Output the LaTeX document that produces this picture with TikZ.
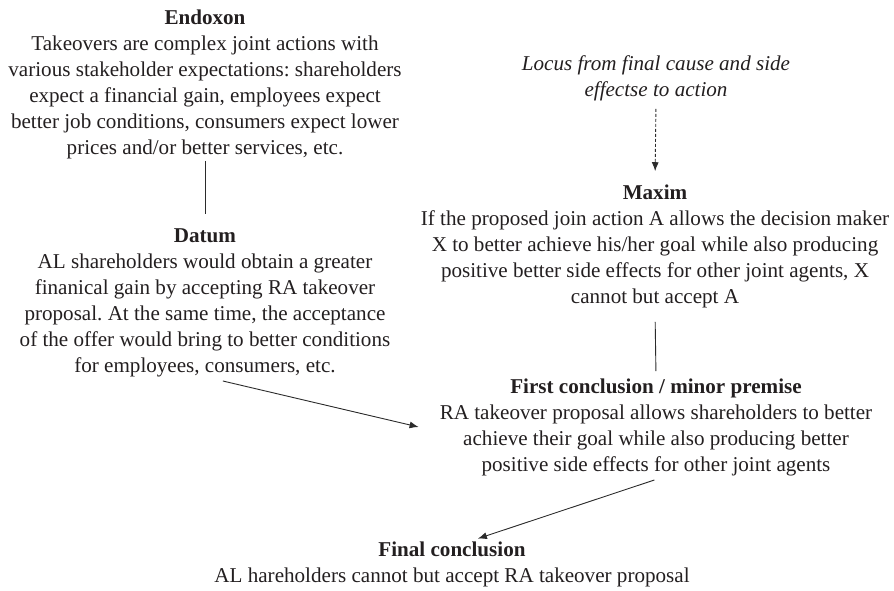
\documentclass[tikz,border=0pt]{standalone}
\usepackage{fontspec}
\setmainfont{Liberation Serif}
\usetikzlibrary{arrows.meta}
\definecolor{ink}{HTML}{231F20}
\definecolor{wire}{HTML}{2B2B2B}
\frenchspacing
\tikzset{
  block/.style={align=center, text=ink, inner sep=2pt,
    font=\fontsize{21.1pt}{26pt}\selectfont},
  conn/.style={draw=wire, line width=0.9pt},
  arr/.style={conn, -{Latex[length=9pt,width=7pt]}},
}
\begin{document}
\begin{tikzpicture}[x=1pt,y=-1pt]
\useasboundingbox (0,0) rectangle (894,591);
\node[block] (endoxon) at (205,84) {\textbf{Endoxon}\\
Takeovers are complex joint actions with\\
various stakeholder expectations: shareholders\\
expect a financial gain, employees expect\\
better job conditions, consumers expect lower\\
prices and/or better services, etc.};
\node[block] (datum) at (205,303) {\textbf{Datum}\\
AL shareholders would obtain a greater\\
finanical gain by accepting RA takeover\\
proposal. At the same time, the acceptance\\
of the offer would bring to better conditions\\
for employees, consumers, etc.};
\node[block, font=\fontsize{21.1pt}{26pt}\selectfont\itshape] (locus) at (656,78) {Locus from final cause and side\\
effectse to action};
\node[block] (maxim) at (655,246) {\textbf{Maxim}\\
If the proposed join action A allows the decision maker\\
X to better achieve his/her goal while also producing\\
positive better side effects for other joint agents, X\\
cannot but accept A};
\node[block] (first) at (656,427) {\textbf{First conclusion / minor premise}\\
RA takeover proposal allows shareholders to better\\
achieve their goal while also producing better\\
positive side effects for other joint agents};
\node[block] (final) at (452,564) {\textbf{Final conclusion}\\
AL hareholders cannot but accept RA takeover proposal};
\draw[conn, shorten <=0pt, shorten >=13pt] (endoxon.south) -- (datum.north);
\draw[arr, dashed, dash pattern=on 3pt off 2pt, shorten <=6pt, shorten >=11pt] (locus.south) -- (maxim.north);
\draw[conn, shorten <=12pt, shorten >=5pt] (maxim.south) -- (first.north);
\draw[arr, shorten <=7pt] ([xshift=11pt]datum.south) -- ([xshift=-19pt]first.west);
\draw[arr, shorten <=7pt, shorten >=2pt] ([xshift=5pt]first.south) -- ([xshift=24pt]final.north);
\end{tikzpicture}
\end{document}
